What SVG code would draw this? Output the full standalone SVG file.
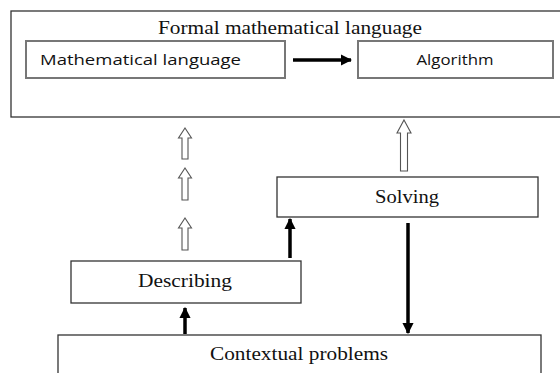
<svg xmlns="http://www.w3.org/2000/svg" width="560" height="373" viewBox="0 0 560 373">
<defs>
<style>
.box{fill:#fff;stroke:#333;stroke-width:1.3}
.inner{fill:#fff;stroke:#777;stroke-width:2}
.serif{font-family:"Liberation Serif","DejaVu Serif",serif;font-size:18px;fill:#111}
.sans{font-family:"Open Sans","Liberation Sans",sans-serif;font-size:15px;fill:#111}
.hollow{fill:#fff;stroke:#555;stroke-width:1.1;stroke-linejoin:miter}
.solid{stroke:#000;stroke-width:3.5;fill:none}
</style>
<marker id="ah" viewBox="0 0 10 10" refX="9" refY="5" markerWidth="3.2" markerHeight="3.2" orient="auto" markerUnits="strokeWidth">
<path d="M0,0 L10,5 L0,10 Z" fill="#000"/>
</marker>
</defs>
<rect width="560" height="373" fill="#fff"/>
<g id="formal">
<rect class="box" x="11" y="11" width="555" height="106"/>
<text class="serif" x="290" y="34" text-anchor="middle" textLength="264" lengthAdjust="spacingAndGlyphs">Formal mathematical language</text>
</g>
<g id="mathlang">
<rect class="inner" x="26" y="41" width="259" height="37"/>
<text class="sans" x="40" y="64.5" textLength="201" lengthAdjust="spacingAndGlyphs">Mathematical  language</text>
</g>
<g id="algorithm">
<rect class="inner" x="358" y="41" width="195" height="37"/>
<text class="sans" x="455" y="64.5" text-anchor="middle" textLength="77" lengthAdjust="spacingAndGlyphs">Algorithm</text>
</g>
<g id="solving">
<rect class="box" x="277" y="177" width="261" height="40"/>
<text class="serif" x="407" y="203" text-anchor="middle" textLength="64" lengthAdjust="spacingAndGlyphs">Solving</text>
</g>
<g id="describing">
<rect class="box" x="71" y="261" width="230" height="42"/>
<text class="serif" x="185" y="287" text-anchor="middle" textLength="94" lengthAdjust="spacingAndGlyphs">Describing</text>
</g>
<g id="contextual">
<rect class="box" x="58" y="335" width="483" height="45"/>
<text class="serif" x="299" y="360" text-anchor="middle" textLength="178" lengthAdjust="spacingAndGlyphs">Contextual problems</text>
</g>
<g id="connectors">
<line class="solid" x1="293" y1="60" x2="351" y2="60" stroke-width="3" marker-end="url(#ah)"/>
<path class="hollow" d="M185,128 L191.5,138 L188,138 L188,159 L182,159 L182,138 L178.5,138 Z"/>
<path class="hollow" d="M185,168 L191.5,178 L188,178 L188,200 L182,200 L182,178 L178.5,178 Z"/>
<path class="hollow" d="M185,218 L191.5,228 L188,228 L188,250 L182,250 L182,228 L178.5,228 Z"/>
<path class="hollow" d="M404,120 L411,133 L407.5,133 L407.5,171 L400.5,171 L400.5,133 L397,133 Z"/>
<line class="solid" x1="290" y1="258" x2="290" y2="219" marker-end="url(#ah)"/>
<line class="solid" x1="185" y1="334" x2="185" y2="308" marker-end="url(#ah)"/>
<line class="solid" x1="408" y1="223" x2="408" y2="333" marker-end="url(#ah)"/>
</g>
</svg>
